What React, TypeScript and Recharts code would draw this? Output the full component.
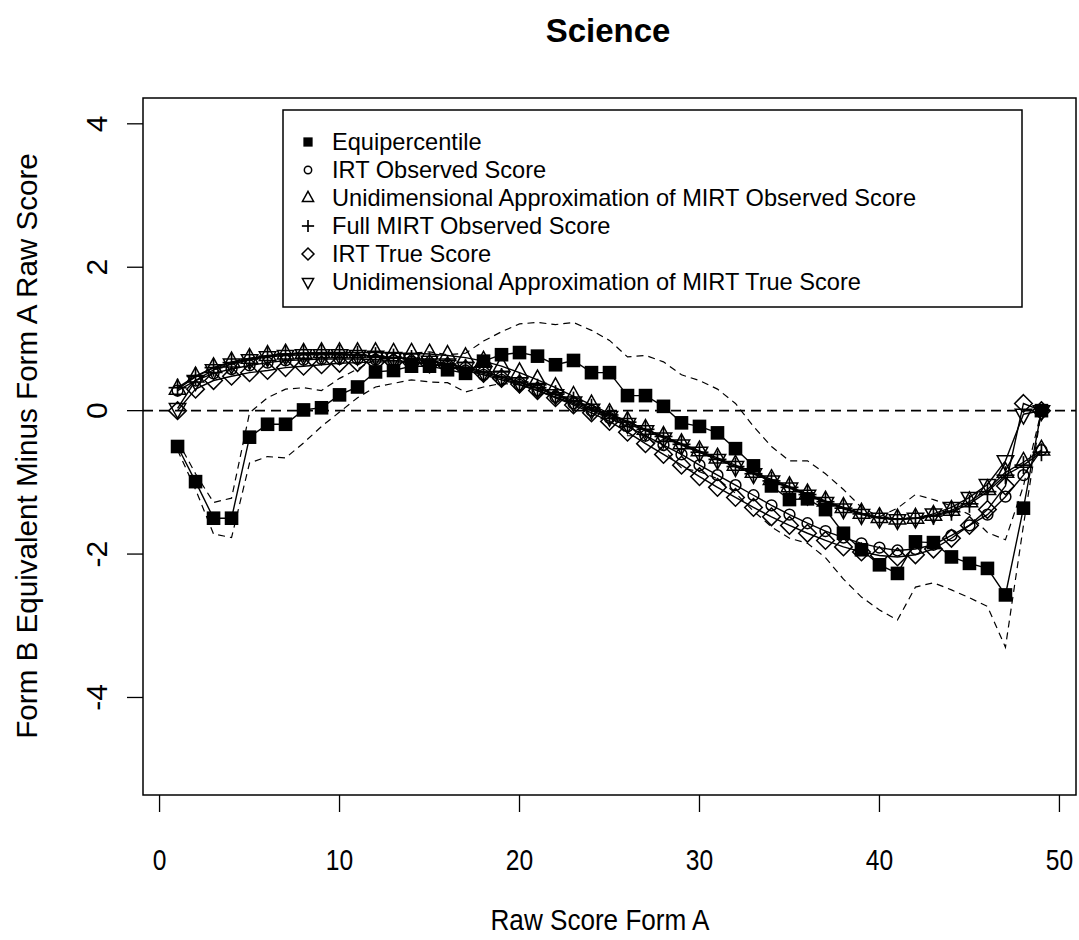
import React from 'react';
import { ComposedChart, Line, XAxis, YAxis, ReferenceLine } from 'recharts';

// Raw score on Form A (x) and equated differences (y) per method
const SCORES = [
  1, 2, 3, 4, 5, 6, 7, 8, 9, 10, 11, 12, 13, 14, 15, 16, 17, 18, 19, 20, 21, 22, 23, 24, 25,
  26, 27, 28, 29, 30, 31, 32, 33, 34, 35, 36, 37, 38, 39, 40, 41, 42, 43, 44, 45, 46, 47, 48, 49,
];

const EQUIPERCENTILE = [
  -0.50, -0.99, -1.50, -1.50, -0.37, -0.19, -0.19, 0.01, 0.04, 0.22,
  0.33, 0.54, 0.56, 0.62, 0.62, 0.57, 0.52, 0.69, 0.78, 0.81,
  0.76, 0.64, 0.70, 0.53, 0.53, 0.21, 0.21, 0.06, -0.17, -0.22,
  -0.31, -0.53, -0.77, -1.05, -1.24, -1.23, -1.38, -1.71, -1.94, -2.15,
  -2.27, -1.83, -1.84, -2.04, -2.13, -2.20, -2.57, -1.36, 0.00,
];

// +/- 2 SE band around the equipercentile results
const BAND_UPPER = [
  -0.42, -0.88, -1.28, -1.22, -0.03, 0.18, 0.30, 0.32, 0.28, 0.45,
  0.58, 0.72, 0.74, 0.80, 0.82, 0.78, 0.80, 0.97, 1.10, 1.21,
  1.23, 1.20, 1.23, 1.12, 0.98, 0.75, 0.77, 0.68, 0.50, 0.42,
  0.30, 0.10, -0.22, -0.50, -0.70, -0.70, -0.88, -1.10, -1.35, -1.48,
  -1.36, -1.17, -1.24, -1.33, -1.45, -1.70, -1.80, -1.05, 0.00,
];

const BAND_LOWER = [
  -0.55, -1.10, -1.72, -1.77, -0.73, -0.64, -0.66, -0.45, -0.22, -0.02,
  0.18, 0.33, 0.38, 0.43, 0.40, 0.39, 0.26, 0.33, 0.38, 0.36,
  0.30, 0.18, 0.20, 0.00, -0.05, -0.35, -0.35, -0.55, -0.80, -0.85,
  -0.95, -1.15, -1.40, -1.62, -1.78, -1.85, -2.05, -2.35, -2.60, -2.78,
  -2.92, -2.46, -2.40, -2.50, -2.61, -2.73, -3.30, -1.60, 0.00,
];

const IRT_OBSERVED = [
  0.28, 0.42, 0.52, 0.58, 0.63, 0.67, 0.70, 0.71, 0.72, 0.72,
  0.72, 0.71, 0.70, 0.68, 0.65, 0.61, 0.56, 0.50, 0.43, 0.36,
  0.28, 0.19, 0.10, 0.00, -0.10, -0.22, -0.35, -0.48, -0.61, -0.76,
  -0.90, -1.04, -1.18, -1.32, -1.45, -1.57, -1.68, -1.77, -1.85, -1.91,
  -1.95, -1.93, -1.87, -1.74, -1.60, -1.45, -1.20, -0.90, -0.55,
];

const UNI_MIRT_OBSERVED = [
  0.30, 0.47, 0.60, 0.68, 0.73, 0.77, 0.79, 0.80, 0.81, 0.81,
  0.81, 0.81, 0.80, 0.80, 0.79, 0.77, 0.74, 0.69, 0.62, 0.53,
  0.43, 0.32, 0.20, 0.08, -0.04, -0.15, -0.26, -0.36, -0.46, -0.56,
  -0.66, -0.76, -0.86, -0.96, -1.06, -1.16, -1.26, -1.35, -1.43, -1.49,
  -1.51, -1.50, -1.46, -1.39, -1.27, -1.10, -0.86, -0.72, -0.55,
];

const FULL_MIRT_OBSERVED = [
  0.32, 0.48, 0.60, 0.67, 0.72, 0.76, 0.79, 0.80, 0.80, 0.79,
  0.78, 0.76, 0.74, 0.72, 0.69, 0.65, 0.60, 0.54, 0.47, 0.40,
  0.32, 0.23, 0.14, 0.04, -0.06, -0.16, -0.26, -0.36, -0.47, -0.58,
  -0.68, -0.78, -0.88, -0.98, -1.07, -1.17, -1.27, -1.36, -1.44, -1.49,
  -1.51, -1.50, -1.47, -1.41, -1.30, -1.13, -0.90, -0.76, -0.58,
];

const IRT_TRUE = [
  0.00, 0.30, 0.42, 0.48, 0.53, 0.56, 0.60, 0.62, 0.64, 0.66,
  0.67, 0.68, 0.68, 0.67, 0.65, 0.62, 0.58, 0.52, 0.45, 0.37,
  0.28, 0.18, 0.08, -0.03, -0.15, -0.30, -0.46, -0.61, -0.76, -0.92,
  -1.07, -1.21, -1.35, -1.48, -1.60, -1.71, -1.81, -1.90, -1.97, -2.02,
  -2.04, -2.01, -1.93, -1.78, -1.60, -1.38, -1.05, 0.10, 0.00,
];

const UNI_MIRT_TRUE = [
  0.03, 0.42, 0.57, 0.65, 0.71, 0.75, 0.77, 0.78, 0.78, 0.78,
  0.77, 0.76, 0.74, 0.72, 0.69, 0.65, 0.60, 0.54, 0.47, 0.39,
  0.31, 0.22, 0.12, 0.02, -0.08, -0.18, -0.28, -0.38, -0.48, -0.58,
  -0.68, -0.78, -0.88, -0.98, -1.08, -1.18, -1.28, -1.37, -1.45, -1.50,
  -1.52, -1.50, -1.44, -1.35, -1.21, -1.03, -0.70, -0.05, 0.00,
];

const X_TICKS = [0, 10, 20, 30, 40, 50];
const Y_TICKS = [-4, -2, 0, 2, 4];

const TITLE = 'Science';
const X_LABEL = 'Raw Score Form A';
const Y_LABEL = 'Form B Equivalent Minus Form A Raw Score';

type MarkKind = 'square' | 'circle' | 'up' | 'plus' | 'diamond' | 'down';

const LEGEND_ITEMS: { label: string; kind: MarkKind }[] = [
  { label: 'Equipercentile', kind: 'square' },
  { label: 'IRT Observed Score', kind: 'circle' },
  { label: 'Unidimensional Approximation of MIRT Observed Score', kind: 'up' },
  { label: 'Full MIRT Observed Score', kind: 'plus' },
  { label: 'IRT True Score', kind: 'diamond' },
  { label: 'Unidimensional Approximation of MIRT True Score', kind: 'down' },
];

const rows = SCORES.map((score, i) => ({
  score,
  equi: EQUIPERCENTILE[i],
  upper: BAND_UPPER[i],
  lower: BAND_LOWER[i],
  irtObs: IRT_OBSERVED[i],
  uniObs: UNI_MIRT_OBSERVED[i],
  fullObs: FULL_MIRT_OBSERVED[i],
  irtTrue: IRT_TRUE[i],
  uniTrue: UNI_MIRT_TRUE[i],
}));

const FONT = '"Liberation Sans", Arial, sans-serif';
const INK = '#000';

// R-style plotting symbols, s scales the whole glyph
function Mark({ kind, cx, cy, s = 1 }: { kind: MarkKind; cx: number; cy: number; s?: number }) {
  const sw = 1.5;
  switch (kind) {
    case 'square': {
      const h = 6.8 * s;
      return <rect x={cx - h} y={cy - h} width={2 * h} height={2 * h} fill={INK} />;
    }
    case 'circle':
      return <circle cx={cx} cy={cy} r={5.4 * s} fill="none" stroke={INK} strokeWidth={sw} />;
    case 'up': {
      const w = 8.2 * s, top = 9.8 * s, bot = 5 * s;
      return (
        <polygon
          points={`${cx},${cy - top} ${cx + w},${cy + bot} ${cx - w},${cy + bot}`}
          fill="none" stroke={INK} strokeWidth={sw}
        />
      );
    }
    case 'down': {
      const w = 8.2 * s, top = 9.8 * s, bot = 5 * s;
      return (
        <polygon
          points={`${cx},${cy + top} ${cx + w},${cy - bot} ${cx - w},${cy - bot}`}
          fill="none" stroke={INK} strokeWidth={sw}
        />
      );
    }
    case 'plus': {
      const h = 9 * s;
      return (
        <g stroke={INK} strokeWidth={1.7}>
          <line x1={cx - h} y1={cy} x2={cx + h} y2={cy} />
          <line x1={cx} y1={cy - h} x2={cx} y2={cy + h} />
        </g>
      );
    }
    case 'diamond': {
      const h = 8.8 * s;
      return (
        <polygon
          points={`${cx},${cy - h} ${cx + h},${cy} ${cx},${cy + h} ${cx - h},${cy}`}
          fill="none" stroke={INK} strokeWidth={sw}
        />
      );
    }
  }
  return null;
}

const dotFor = (kind: MarkKind) => (p: any) => {
  if (p.cx == null || p.cy == null) return <g key={`${kind}-${p.index}`} />;
  return (
    <g key={`${kind}-${p.index}`}>
      <Mark kind={kind} cx={p.cx} cy={p.cy} />
    </g>
  );
};

const XTick = (p: any) => (
  <g transform={`translate(${p.x},${p.y + 56}) scale(0.82,1)`}>
    <text x={0} y={0} textAnchor="middle" fontFamily={FONT} fontSize={30} fill={INK}>
      {p.payload.value}
    </text>
  </g>
);

const YTick = (p: any) => (
  <text
    transform={`translate(${p.x - 18},${p.y}) rotate(-90)`}
    textAnchor="middle" fontFamily={FONT} fontSize={30} fill={INK}
  >
    {p.payload.value}
  </text>
);

// plot frame in page pixels
const FRAME = { left: 143, top: 98, right: 1076, bottom: 795 };

export default function App() {
  return (
    <div style={{ position: 'absolute', left: 0, top: 0, width: 1079, height: 940, background: '#fff' }}>
      <ComposedChart
        width={1079}
        height={940}
        data={rows}
        margin={{ top: FRAME.top, right: 1079 - FRAME.right, bottom: 0, left: 0 }}
      >
        <XAxis
          dataKey="score"
          type="number"
          domain={[-0.92, 50.92]}
          ticks={X_TICKS}
          height={940 - FRAME.bottom}
          axisLine={false}
          tickSize={17}
          tickLine={{ stroke: INK, strokeWidth: 1.3 }}
          tick={<XTick />}
          interval={0}
        />
        <YAxis
          type="number"
          domain={[-5.36, 4.36]}
          ticks={Y_TICKS}
          width={FRAME.left}
          axisLine={false}
          tickSize={16}
          tickLine={{ stroke: INK, strokeWidth: 1.3 }}
          tick={<YTick />}
          interval={0}
        />
        <ReferenceLine y={0} stroke={INK} strokeWidth={1.8} strokeDasharray="10 6" />
        <Line dataKey="upper" type="linear" stroke={INK} strokeWidth={1.2} strokeDasharray="7 5"
          dot={false} activeDot={false} isAnimationActive={false} />
        <Line dataKey="lower" type="linear" stroke={INK} strokeWidth={1.2} strokeDasharray="7 5"
          dot={false} activeDot={false} isAnimationActive={false} />
        <Line dataKey="equi" type="linear" stroke={INK} strokeWidth={1.4}
          dot={dotFor('square')} activeDot={false} isAnimationActive={false} />
        <Line dataKey="irtObs" type="linear" stroke={INK} strokeWidth={1.4}
          dot={dotFor('circle')} activeDot={false} isAnimationActive={false} />
        <Line dataKey="uniObs" type="linear" stroke={INK} strokeWidth={1.4}
          dot={dotFor('up')} activeDot={false} isAnimationActive={false} />
        <Line dataKey="fullObs" type="linear" stroke={INK} strokeWidth={1.4}
          dot={dotFor('plus')} activeDot={false} isAnimationActive={false} />
        <Line dataKey="irtTrue" type="linear" stroke={INK} strokeWidth={1.4}
          dot={dotFor('diamond')} activeDot={false} isAnimationActive={false} />
        <Line dataKey="uniTrue" type="linear" stroke={INK} strokeWidth={1.4}
          dot={dotFor('down')} activeDot={false} isAnimationActive={false} />
      </ComposedChart>

      <svg
        width={1079}
        height={940}
        style={{ position: 'absolute', left: 0, top: 0, pointerEvents: 'none' }}
      >
        <rect
          x={FRAME.left}
          y={FRAME.top}
          width={FRAME.right - FRAME.left}
          height={FRAME.bottom - FRAME.top}
          fill="none" stroke={INK} strokeWidth={1.5}
        />
        <text x={608} y={42} textAnchor="middle" fontFamily={FONT} fontWeight="bold" fontSize={33} fill={INK}>
          {TITLE}
        </text>
        <g transform="translate(600,930) scale(0.87,1)">
          <text x={0} y={0} textAnchor="middle" fontFamily={FONT} fontSize={30} fill={INK}>{X_LABEL}</text>
        </g>
        <text
          transform="translate(37,446) rotate(-90)"
          textAnchor="middle" fontFamily={FONT} fontSize={29.6} fill={INK}
        >
          {Y_LABEL}
        </text>

        {/* legend box */}
        <rect x={283} y={110} width={739} height={197} fill="none" stroke={INK} strokeWidth={1.5} />
        {LEGEND_ITEMS.map((item, i) => {
          const cy = 142 + i * 28;
          return (
            <g key={item.label}>
              <Mark kind={item.kind} cx={308} cy={cy} s={0.68} />
              <text x={332} y={cy + 8} fontFamily={FONT} fontSize={23.6} fill={INK}>{item.label}</text>
            </g>
          );
        })}
      </svg>
    </div>
  );
}
